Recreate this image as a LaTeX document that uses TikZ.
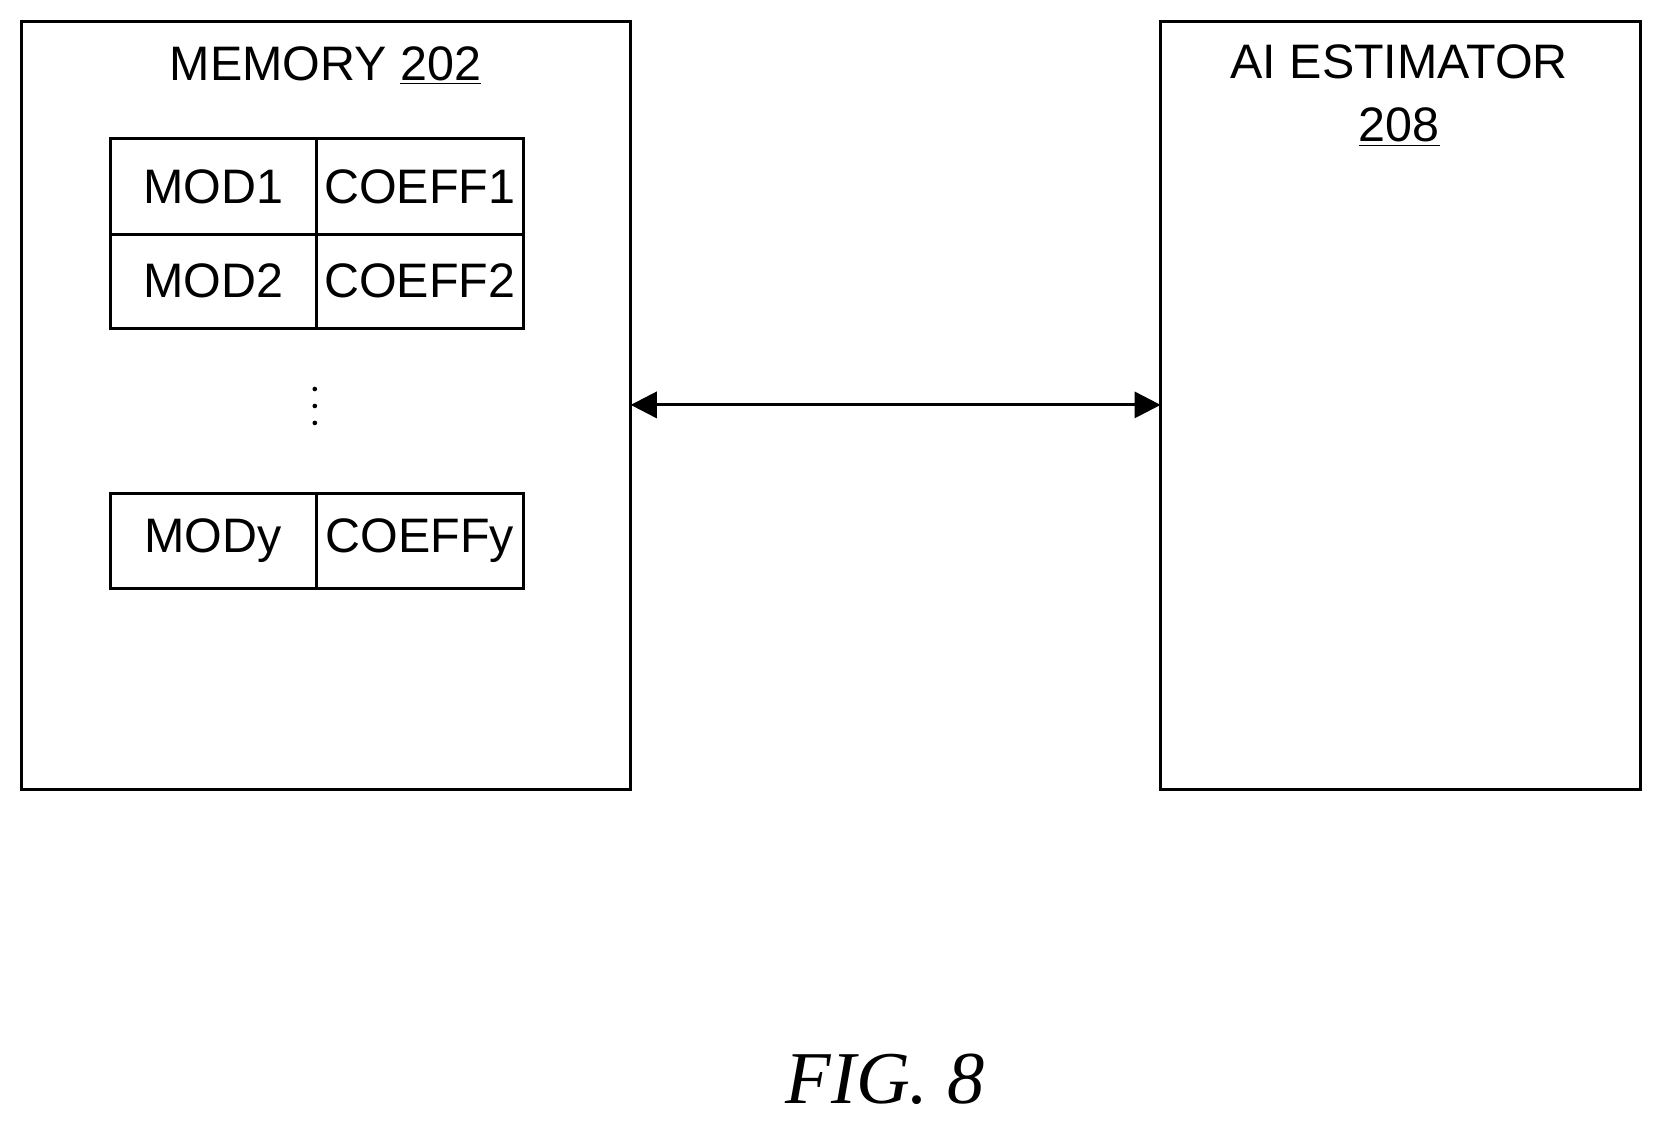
\documentclass[tikz,border=0pt]{standalone}
\usepackage{fontspec}
\setmainfont{Liberation Sans}
\newfontfamily\figfont{Liberation Serif}
\usetikzlibrary{arrows.meta}
\begin{document}
\begin{tikzpicture}[x=0.02cm,y=-0.02cm,
  box/.style={draw,line width=1.6pt},
  lbl/.style={font=\fontsize{26}{30}\selectfont,inner sep=0},
  arr/.style={line width=1.6pt,{Triangle[length=14pt,width=14pt]}-{Triangle[length=14pt,width=14pt]}}]
\useasboundingbox (0,0) rectangle (1568,1061);
\draw[box] (20,20) rectangle (595,745);
\draw[box] (1095,20) rectangle (1548,745);
\coordinate (memR) at (595,382);
\coordinate (aiL) at (1095,382);
\node[lbl] (memt) at (307,62) {MEMORY \underline{202}};
\node[lbl,align=center] (ait) at (1320,90) {AI ESTIMATOR\\[4pt]\underline{208}};
\draw[box] (104,131) rectangle (494,310);
\draw[box] (104,221) -- (494,221);
\draw[box] (299,131) -- (299,310);
\draw[box] (104,466) rectangle (494,555);
\draw[box] (299,466) -- (299,555);
\node[lbl] (m1) at (201,176) {MOD1};
\node[lbl] (c1) at (396,176) {COEFF1};
\node[lbl] (m2) at (201,265) {MOD2};
\node[lbl] (c2) at (396,265) {COEFF2};
\node[lbl] (my) at (201,510) {MODy};
\node[lbl] (cy) at (396,510) {COEFFy};
\foreach \y in {367,383,399} \fill (297,\y) circle (2.2);
\draw[arr] (memR) -- (aiL);
\node[inner sep=0,font=\figfont\itshape\fontsize{40}{44}\selectfont] (fig) at (835,1018) {FIG. 8};
\end{tikzpicture}
\end{document}
